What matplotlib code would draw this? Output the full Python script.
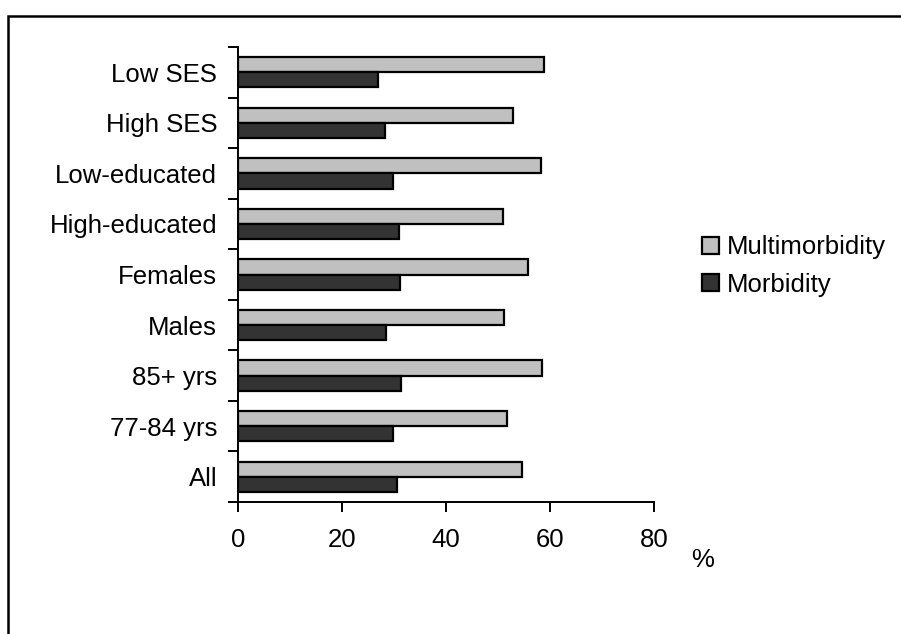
import numpy as np
import matplotlib
matplotlib.use('Agg')
import matplotlib.pyplot as plt
from matplotlib.patches import Rectangle

plt.rcParams['font.family'] = ['Liberation Sans', 'DejaVu Sans']

# categories listed bottom to top
groups = ['All', '77-84 yrs', '85+ yrs', 'Males', 'Females',
          'High-educated', 'Low-educated', 'High SES', 'Low SES']
multimorbidity = [54.7, 51.7, 58.5, 51.2, 55.8, 51.0, 58.3, 52.9, 58.9]
morbidity = [30.5, 29.9, 31.3, 28.4, 31.2, 30.9, 29.9, 28.3, 27.0]
x_ticks = [0, 20, 40, 60, 80]

fig = plt.figure(figsize=(9.01, 6.34), dpi=100)
ax = fig.add_axes([238 / 901, 1 - 502 / 634, 416 / 901, 455 / 634])

y = np.arange(len(groups))
h = 0.3
ax.barh(y + h / 2, multimorbidity, height=h, color='#c0c0c0',
        edgecolor='black', linewidth=1.6, label='Multimorbidity')
ax.barh(y - h / 2, morbidity, height=h, color='#333333',
        edgecolor='black', linewidth=1.6, label='Morbidity')

ax.set_xlim(0, 80)
ax.set_ylim(-0.5, len(groups) - 0.5)
ax.set_xticks(x_ticks)
ax.set_yticks(y)
ax.set_yticklabels(groups)
ax.set_yticks(np.arange(-0.5, len(groups)), minor=True)

ax.tick_params(axis='y', which='major', length=0, pad=15, labelsize=18.5)
ax.tick_params(axis='y', which='minor', length=7, width=1.4, direction='out')
ax.tick_params(axis='x', length=7, width=1.4, direction='out', pad=12, labelsize=18.5)

for s in ['top', 'right']:
    ax.spines[s].set_visible(False)
for s in ['left', 'bottom']:
    ax.spines[s].set_linewidth(1.4)

fig.text(703 / 901, 1 - 560 / 634, '%', fontsize=18.5, ha='center', va='center')

fig.legend(loc='center left', bbox_to_anchor=(702 / 901, 1 - 266 / 634),
           frameon=False, fontsize=18.5, handlelength=0.65, handleheight=0.65,
           handletextpad=0.3, labelspacing=0.52, borderpad=0, borderaxespad=0)

# outer frame (only top and left edges fall inside the image)
fig.patches.append(Rectangle((8 / 901, -0.2), 1.2, 0.2 + 1 - 16 / 634,
                             transform=fig.transFigure, fill=False,
                             edgecolor='black', linewidth=1.8))

fig.savefig('out.png', dpi=100)
